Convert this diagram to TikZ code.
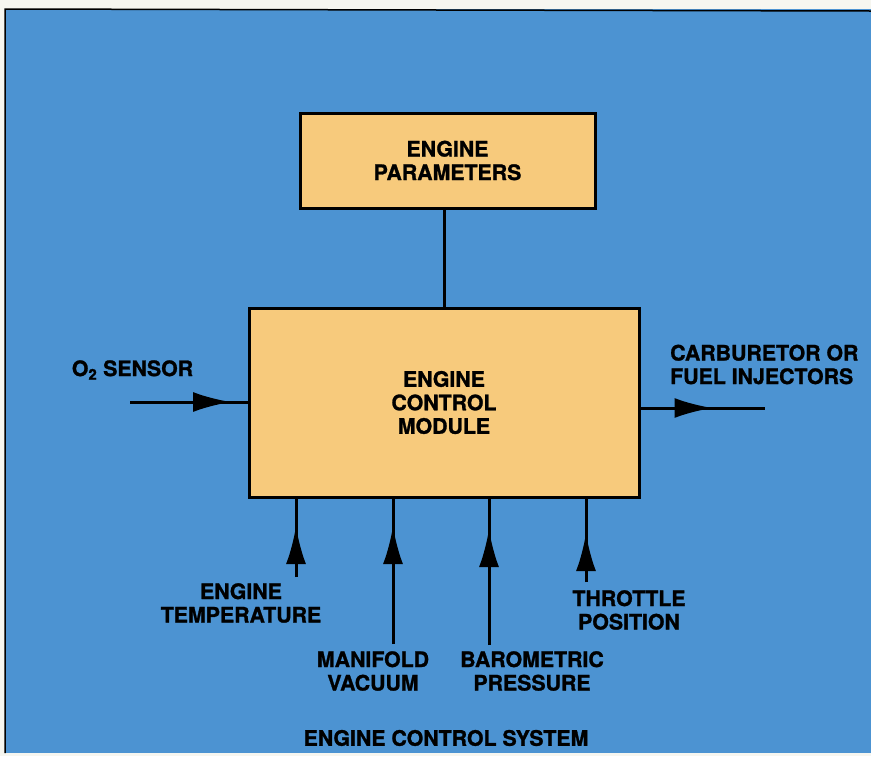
\documentclass[tikz,border=0pt]{standalone}
\usepackage{fontspec}
\setmainfont{TeX Gyre Heros}[BoldFeatures={FakeBold=1.2}]
\usetikzlibrary{arrows.meta,decorations.markings}

\definecolor{sheetblue}{RGB}{76,147,210}
\definecolor{boxorange}{RGB}{247,202,124}
\definecolor{paper}{RGB}{246,246,240}

\begin{document}
\begin{tikzpicture}
[
	x=1pt, y=-1pt,
	label/.style={font=\fontsize{21.3}{23.5}\selectfont\bfseries,inner sep=0pt,align=center},
	block/.style={draw,line width=3pt,fill=boxorange,label},
	wire/.style={line width=3pt},
	midarrow/.style={postaction={decorate},
		decoration={markings,mark=at position #1 with {\arrow{Latex[length=38pt,width=20pt]}}}}
]

	% sheet
	\useasboundingbox (0,0) rectangle (871,756);
	\fill[paper] (0,0) rectangle (871,756);
	\fill[sheetblue] (5,9) rectangle (871,753);
	\draw[line width=1.5pt] (5,753) -- (5,9) -- (871,11);

	% blocks
	\node[block,minimum width=295pt,minimum height=95pt] (params) at (447.5,160.5) {ENGINE\\PARAMETERS};
	\node[block,minimum width=390pt,minimum height=189pt] (ecm) at (444,402.5) {ENGINE\\CONTROL\\MODULE};

	\draw[wire] (ecm.north) -- (ecm.north |- params.south);

	% inputs and output
	\coordinate (o2in) at (130,402);
	\coordinate (carbout) at (765,408);
	\coordinate (tempin) at (296,577);
	\coordinate (vacin) at (393,644);
	\coordinate (baroin) at (489,645);
	\coordinate (throtin) at (586,582);

	\draw[wire,midarrow=101pt] (o2in) -- (o2in -| ecm.west);
	\draw[wire,midarrow=72pt] (carbout -| ecm.east) -- (carbout);
	\draw[wire,midarrow=51pt] (tempin) -- (tempin |- ecm.south);
	\draw[wire,midarrow=118pt] (vacin) -- (vacin |- ecm.south);
	\draw[wire,midarrow=116pt] (baroin) -- (baroin |- ecm.south);
	\draw[wire,midarrow=49pt] (throtin) -- (throtin |- ecm.south);

	\node[label] (o2) at (132.5,370) {O\textsubscript{2} SENSOR};
	\node[label,align=left,anchor=west] (carb) at (670,364.5) {CARBURETOR OR\\FUEL INJECTORS};
	\node[label] (temp) at (241,603) {ENGINE\\TEMPERATURE};
	\node[label] (vac) at (373,671) {MANIFOLD\\VACUUM};
	\node[label] (baro) at (532,671) {BAROMETRIC\\PRESSURE};
	\node[label] (throt) at (629,610) {THROTTLE\\POSITION};

	\node[label] (title) at (446,738) {ENGINE CONTROL SYSTEM};

\end{tikzpicture}
\end{document}
